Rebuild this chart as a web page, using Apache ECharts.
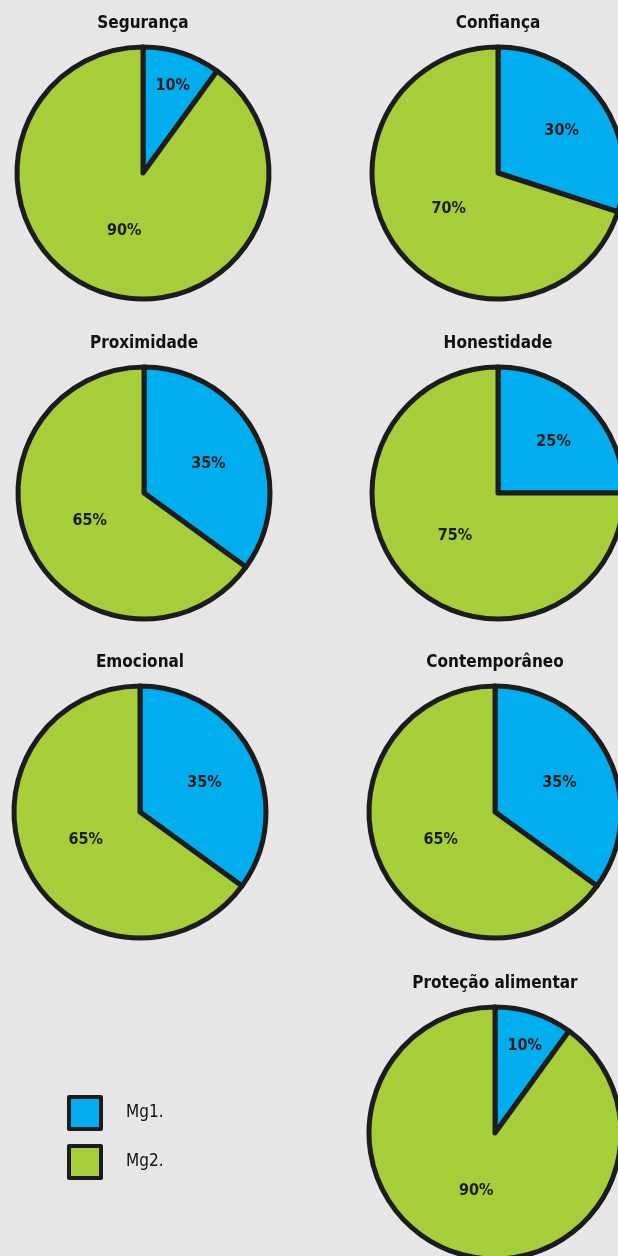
<!DOCTYPE html>
<html>
<head>
<meta charset="utf-8">
<script src="https://cdn.jsdelivr.net/npm/echarts@6/dist/echarts.min.js"></script>
<style>
  html, body { margin: 0; padding: 0; background: #e6e6e6; }
  #chart { width: 618px; height: 1256px; }
</style>
</head>
<body>
<div id="chart"></div>
<script>
// Survey results: share of Mg1. vs Mg2. for each attribute
const attributes = ['Segurança', 'Confiança', 'Proximidade', 'Honestidade', 'Emocional', 'Contemporâneo', 'Proteção alimentar'];
const groupNames = ['Mg1.', 'Mg2.'];
const mg1Values = [10, 30, 35, 25, 35, 35, 10];
const mg2Values = [90, 70, 65, 75, 65, 65, 90];

// Pie placement on the page (pixel centres)
const pieCentres = [[143, 173], [498, 173], [144, 493], [498, 493], [140, 812], [495, 812], [495, 1133]];
const RADIUS = 126;
const INK = '#1c1c1c';
const FONT = '"DejaVu Sans Condensed", "DejaVu Sans", sans-serif';

// Moves each inside label along its slice's bisector: narrow slices get their
// label further out, the large slice keeps it a little inside the half radius
function labelShift(values) {
  const total = values[0] + values[1];
  return function (p) {
    const i = p.dataIndex;
    const v = values[i];
    const before = i === 0 ? 0 : values[0];
    const theta = 2 * Math.PI * (before + v / 2) / total;
    const share = v / total;
    let frac;
    if (i === 1) frac = 0.46;
    else if (share <= 0.1) frac = 0.74;
    else if (share <= 0.3) frac = 0.6;
    else frac = 0.55;
    const extra = RADIUS * frac - RADIUS / 2;
    return {
      dx: extra * Math.sin(theta),
      dy: -extra * Math.cos(theta) + (i === 0 ? 4 : 0)
    };
  };
}

const titles = attributes.map((t, k) => ({
  text: t,
  left: pieCentres[k][0],
  top: pieCentres[k][1] - 158,
  textAlign: 'center',
  padding: 0,
  textStyle: { fontFamily: FONT, fontSize: 17, fontWeight: 'bold', color: '#111', lineHeight: 18 }
}));

const series = attributes.map((t, k) => {
  const vals = [mg1Values[k], mg2Values[k]];
  return {
    type: 'pie',
    name: t,
    center: pieCentres[k],
    radius: [0, RADIUS],
    startAngle: 90,
    clockwise: true,
    silent: true,
    animation: false,
    itemStyle: { borderColor: INK, borderWidth: 5 },
    label: {
      show: true,
      position: 'inside',
      formatter: '{c}%',
      fontFamily: FONT,
      fontSize: 16,
      fontWeight: 'bold',
      color: INK
    },
    labelLine: { show: false },
    labelLayout: labelShift(vals),
    data: [
      { name: groupNames[0], value: vals[0] },
      { name: groupNames[1], value: vals[1] }
    ]
  };
});

const chart = echarts.init(document.getElementById('chart'), null, { renderer: 'canvas' });
chart.setOption({
  backgroundColor: '#e6e6e6',
  color: ['#00adee', '#a6ce39'],
  title: titles,
  legend: {
    data: groupNames,
    orient: 'vertical',
    left: 67,
    top: 1095,
    padding: 0,
    itemWidth: 32,
    itemHeight: 32,
    itemGap: 13,
    icon: 'rect',
    itemStyle: { borderColor: INK, borderWidth: 4 },
    textStyle: { fontFamily: FONT, fontSize: 17, color: '#111', padding: [0, 0, 0, 20] },
    selectedMode: false
  },
  series: series
});
</script>
</body>
</html>
